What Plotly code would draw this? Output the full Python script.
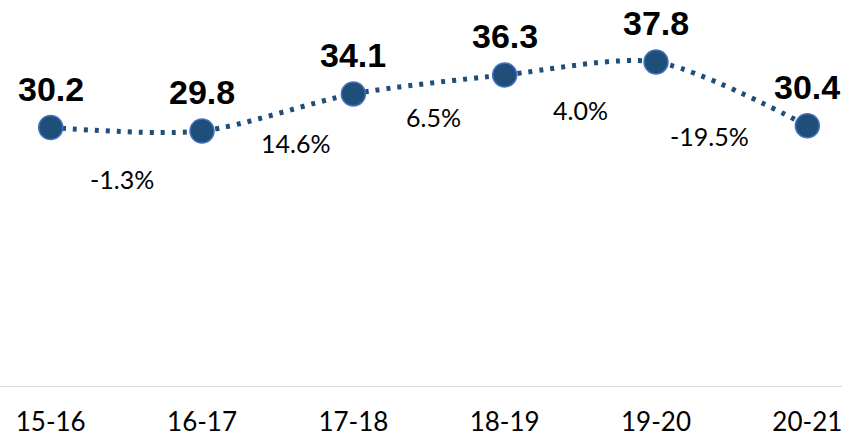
import plotly.graph_objects as go

categories = ["15-16", "16-17", "17-18", "18-19", "19-20", "20-21"]
values = [30.2, 29.8, 34.1, 36.3, 37.8, 30.4]
pct_labels = ["-1.3%", "14.6%", "6.5%", "4.0%", "-19.5%"]

# pixel offsets of each percent label from its segment midpoint (style only)
pct_xshift = [-4, 18, 4, 0, -22]
pct_yshift = [-50, -31, -33, -41, -42]

x_idx = list(range(len(categories)))
LINE = "#1F4E79"

fig = go.Figure()
fig.add_trace(go.Scatter(
    x=x_idx, y=values, mode="lines+markers",
    line=dict(color=LINE, width=5, dash="4px,7px", shape="spline", smoothing=0.8),
    marker=dict(size=24, color=LINE, line=dict(color="#4472C4", width=1.5)),
    hoverinfo="skip", showlegend=False,
))

annotations = []
for i, v in enumerate(values):
    annotations.append(dict(
        x=i, y=v, xref="x", yref="y", text=f"{v:.1f}", showarrow=False,
        yanchor="middle", xanchor="center", yshift=39,
        font=dict(family="Liberation Sans, Arial", size=34, color="#000000", weight="bold"),
    ))
for i, t in enumerate(pct_labels):
    annotations.append(dict(
        x=i + 0.5, y=(values[i] + values[i + 1]) / 2, xref="x", yref="y",
        text=t, showarrow=False, yanchor="middle", xanchor="center",
        xshift=pct_xshift[i], yshift=pct_yshift[i],
        font=dict(family="Lato, Noto Sans", size=25, color="#000000"),
    ))

fig.update_layout(
    width=842, height=438,
    margin=dict(l=0, r=0, t=0, b=52, autoexpand=False),
    paper_bgcolor="white", plot_bgcolor="white",
    annotations=annotations,
    xaxis=dict(
        range=[-0.335, 5.229], tickmode="array", tickvals=x_idx, ticktext=categories,
        showline=True, linecolor="#D9D9D9", linewidth=1, showgrid=False, zeroline=False,
        ticks="", ticklabelstandoff=13, automargin=False, ticklabeloverflow="allow",
        tickfont=dict(family="Lato, Noto Sans", size=26, color="#000000"),
    ),
    yaxis=dict(range=[0.2, 45.0], visible=False, showgrid=False, zeroline=False),
)

fig.write_html(
    "out.html",
    config={"displayModeBar": False},
    post_script="document.body.style.margin='0';document.body.style.overflow='hidden';",
)
